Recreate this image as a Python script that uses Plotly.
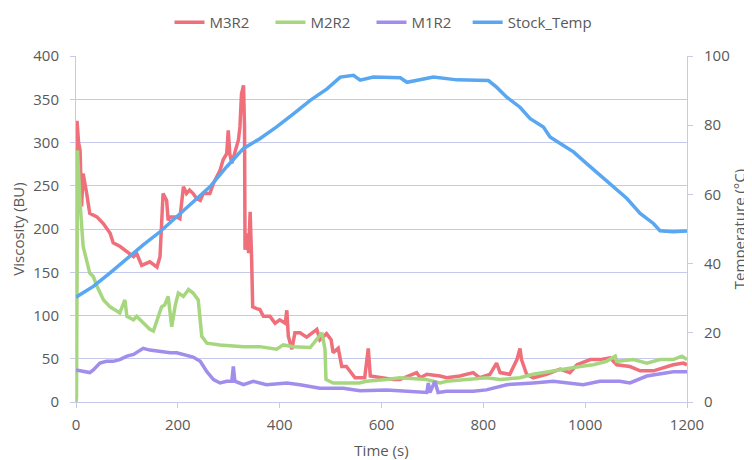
import plotly.graph_objects as go

# ---- data ----
m3_t = [0,2,5,8,11,14,21,27,41,54,67,73,86,100,113,119,129,145,159,165,171,178,181,185,198,204,211,217,223,230,
        237,244,250,257,263,270,283,289,296,299,302,306,312,319,322,325,329,331,332,336,339,342,345,347,355,361,368,381,391,400,
        411,414,417,424,430,440,453,473,479,492,501,505,515,522,531,541,548,567,574,578,597,623,636,669,676,689,715,728,754,780,
        793,813,826,833,852,866,872,875,885,898,924,951,970,984,1010,1029,1049,1062,1088,1108,1134,1147,1173,1193,1200]
m3_v = [3,325,300,291,226,264,241,218,214,206,195,184,180,174,168,172,158,162,156,168,241,233,210,214,214,212,249,241,245,241,
        235,233,241,241,241,253,268,280,287,314,287,276,287,303,318,356,366,318,176,195,172,220,164,110,108,107,99,99,91,95,
        91,106,76,61,80,80,75,84,72,79,72,57,62,41,41,34,28,28,62,30,28,26,26,34,28,32,30,28,30,34,
        28,32,45,34,32,49,62,49,32,28,32,38,34,43,49,49,51,43,41,36,36,38,43,45,43]

m2_t = [0,1,3,8,14,21,27,34,41,54,67,86,96,100,113,119,132,145,152,162,168,174,181,188,195,201,211,221,230,240,
        247,257,283,329,361,394,407,427,460,483,489,491,505,557,570,610,636,688,715,728,767,806,833,872,898,937,964,990,1016,1042,
        1059,1062,1095,1121,1147,1173,1190,1200]
m2_v = [0,5,291,230,180,164,149,145,134,118,110,103,118,99,95,99,91,84,82,99,110,112,122,87,112,126,122,130,126,118,
        76,68,66,64,64,61,66,64,63,80,61,26,22,22,24,26,28,26,22,24,26,28,26,28,32,36,38,41,43,47,
        53,47,49,45,49,49,53,49]

m1_t = [0,8,27,34,47,60,73,86,100,113,126,132,145,165,185,198,211,230,244,257,270,283,296,306,309,312,329,348,374,414,
        440,479,525,558,610,689,692,695,705,711,728,780,806,846,898,937,996,1029,1068,1088,1121,1147,1173,1200]
m1_v = [37,36,34,37,45,47,47,49,53,55,60,62,60,58,57,57,55,52,47,35,26,22,24,24,41,24,20,24,20,22,
        20,16,16,13,14,11,22,11,24,11,12.5,12.5,14,20,22,24,20,24,24,22,30,32,35,35]

temp_t = [0,34,67,100,132,165,198,230,263,296,329,361,394,427,460,493,519,545,558,584,637,650,702,748,810,826,846,872,892,918,
          931,951,977,1003,1029,1056,1082,1108,1134,1147,1173,1200]
temp_v = [30.3,33.4,37.3,41.5,45.4,49.2,53.5,57.9,62.2,68,73.3,76.1,79.5,83.3,87.2,90.5,93.9,94.4,93,93.9,93.7,92.4,93.9,93.1,92.9,91,88.1,85.2,81.9,79.5,
          76.6,74.7,72.3,68.9,65.6,62.2,58.8,54.5,51.6,49.5,49.2,49.4]

assert len(m3_t) == len(m3_v) and len(m2_t) == len(m2_v) and len(m1_t) == len(m1_v) and len(temp_t) == len(temp_v)

x_ticks = [0, 200, 400, 600, 800, 1000, 1200]

# ---- styling ----
TXT = "#595959"
GRID = "#C5CAEC"
FONT = "Open Sans"

fig = go.Figure()
fig.add_trace(go.Scatter(x=m3_t, y=m3_v, name="M3R2", mode="lines",
                         line=dict(color="#EF6F7B", width=3.5)))
fig.add_trace(go.Scatter(x=m2_t, y=m2_v, name="M2R2", mode="lines",
                         line=dict(color="#A6D77F", width=3.5)))
fig.add_trace(go.Scatter(x=m1_t, y=m1_v, name="M1R2", mode="lines",
                         line=dict(color="#A18DEC", width=3.5)))
fig.add_trace(go.Scatter(x=temp_t, y=temp_v, name="Stock_Temp", mode="lines", yaxis="y2",
                         legend="legend2", line=dict(color="#59A7F1", width=3.5)))

# page body has an 8px margin, so the figure is 8px smaller than the window
fig.update_layout(
    width=744, height=452,
    margin=dict(l=68, r=65, t=47.5, b=57.5, autoexpand=False),
    paper_bgcolor="white", plot_bgcolor="white",
    font=dict(family=FONT, size=15, color=TXT),
    showlegend=True,
    legend=dict(orientation="h", x=0.153, xanchor="left", y=1.097, yanchor="middle",
                font=dict(size=15, color=TXT), tracegroupgap=0, entrywidth=56),
    legend2=dict(orientation="h", x=0.641, xanchor="left", y=1.097, yanchor="middle",
                 font=dict(size=15, color=TXT)),
    xaxis=dict(range=[0, 1200], tickvals=x_ticks, showgrid=False, zeroline=False,
               showline=True, linecolor=GRID, linewidth=1, automargin=False,
               ticks="outside", ticklen=5, tickcolor=GRID, ticklabelstandoff=4,
               title=dict(text="Time (s)", font=dict(size=15, color=TXT), standoff=13)),
    yaxis=dict(range=[0, 400], dtick=50, showgrid=True, gridcolor=GRID, gridwidth=1, zeroline=False,
               showline=True, linecolor=GRID, ticks="outside", ticklen=5, tickcolor=GRID,
               automargin=False, ticklabelstandoff=8,
               title=dict(text="Viscosity (BU)", font=dict(size=15, color=TXT), standoff=8)),
    yaxis2=dict(range=[0, 100], dtick=20, overlaying="y", side="right", showgrid=False, zeroline=False,
                showline=True, linecolor=GRID, ticks="outside", ticklen=5, tickcolor=GRID,
                automargin=False, ticklabelstandoff=8,
                title=dict(text="Temperature (°C)", font=dict(size=15, color=TXT), standoff=5)),
)

fig.write_html("out.html")
